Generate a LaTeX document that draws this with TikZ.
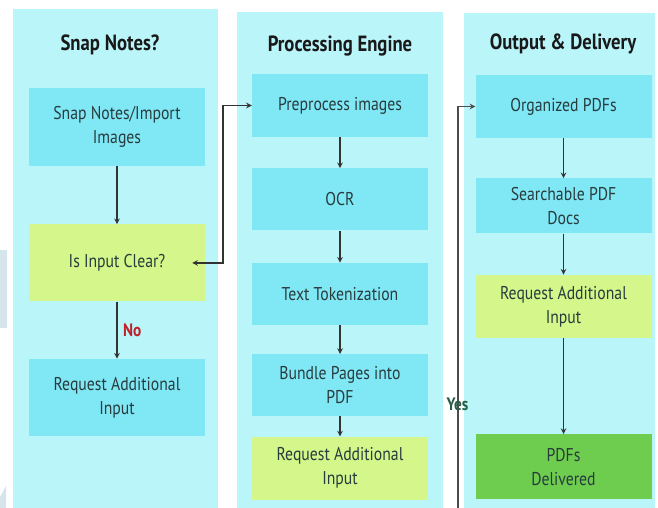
\documentclass[tikz,border=0pt]{standalone}
\usepackage{fontspec}
\setmainfont{PT Sans}[FakeStretch=0.85]
\usepackage{xcolor}
\usepackage{tikz}
\usetikzlibrary{shapes.geometric, arrows, positioning, calc}
\definecolor{panelcyan}{RGB}{186,245,250}
\definecolor{boxcyan}{RGB}{128,231,245}
\definecolor{boxlime}{RGB}{212,246,138}
\definecolor{boxgreen}{RGB}{110,204,78}
\definecolor{boxtext}{RGB}{40,60,62}
\definecolor{nored}{RGB}{192,32,40}
\definecolor{yesgreen}{RGB}{40,92,72}
\definecolor{markgray}{RGB}{214,228,236}
\tikzstyle{panel} = [fill=panelcyan]
\tikzstyle{heading} = [font=\fontsize{22pt}{26pt}\selectfont\bfseries, text=black!90]
\tikzstyle{process} = [rectangle, minimum width=176pt, minimum height=62pt, text centered, align=center, fill=boxcyan, text=boxtext, font=\fontsize{18.5pt}{24pt}\selectfont]
\tikzstyle{decision} = [process, fill=boxlime]
\tikzstyle{done} = [process, fill=boxgreen]
\tikzstyle{arrow} = [line width=1.5pt, draw=black!80, ->, >=stealth]
\tikzstyle{branch} = [font=\fontsize{18pt}{24pt}\selectfont\bfseries]

\begin{document}
\begin{tikzpicture}[x=1pt, y=-1pt]
\useasboundingbox (0,0) rectangle (658,508);

% Background panels
\fill[panel] (13,9) rectangle (218,508);
\fill[panel] (237,12) rectangle (443,508);
\fill[panel] (464,13) rectangle (655,508);
\fill[markgray] (0,250) rectangle (7,328);
\fill[markgray] (0,497) -- (6,486) -- (6,508) -- (0,508) -- cycle;

% Headings
\node (headA) [heading] at (110,45) {Snap Notes?};
\node (headB) [heading] at (340,46) {Processing Engine};
\node (headC) [heading] at (563,44) {Output \& Delivery};

% Snap Notes column
\node (snap) [process, minimum height=78pt] at (117,127) {Snap Notes/Import\\Images};
\node (clear) [decision, below=58pt of snap, minimum height=77pt] {Is Input Clear?};
\node (reqA) [process, below=57pt of clear, minimum height=77pt] {Request Additional\\Input};

% Processing column
\node (prep) [process, minimum height=63pt] at (340,105.5) {Preprocess images};
\node (ocr) [process, below=31pt of prep] {OCR};
\node (token) [process, below=32pt of ocr] {Text Tokenization};
\node (bundle) [process, below=29pt of token] {Bundle Pages into\\PDF};
\node (reqB) [decision, below=20pt of bundle, minimum height=63pt] {Request Additional\\Input};

% Output column
\node (org) [process, minimum height=63pt] at (563.5,106.5) {Organized PDFs};
\node (search) [process, below=40pt of org, minimum height=55pt] {Searchable PDF\\Docs};
\node (reqC) [decision, below=41pt of search, minimum height=63pt] {Request Additional\\Input};
\node (deliv) [done, below=96pt of reqC, minimum height=65pt] {PDFs\\Delivered};

% Arrows
\draw [arrow] (snap) -- (clear);
\draw [arrow] (clear) -- node[right, xshift=2pt, branch, text=nored] {No} (reqA);
\draw [arrow, <->] ([xshift=-13pt]clear.east) -- ++(31,0) |- (prep.west);
\draw [arrow] (prep) -- (ocr);
\draw [arrow] (ocr) -- (token);
\draw [arrow] (token) -- (bundle);
\draw [arrow] (bundle) -- (reqB);
\draw [arrow] (org) -- (search);
\draw [arrow] (search) -- (reqC);
\draw [arrow] (reqC) -- (deliv);

% Yes loop
\coordinate (yesfoot) at (458,508);
\draw [arrow, draw=black!70] (yesfoot) |- (org.west);
\node (yes) [branch, text=yesgreen] at (457.5,404) {Yes};

\end{tikzpicture}
\end{document}
